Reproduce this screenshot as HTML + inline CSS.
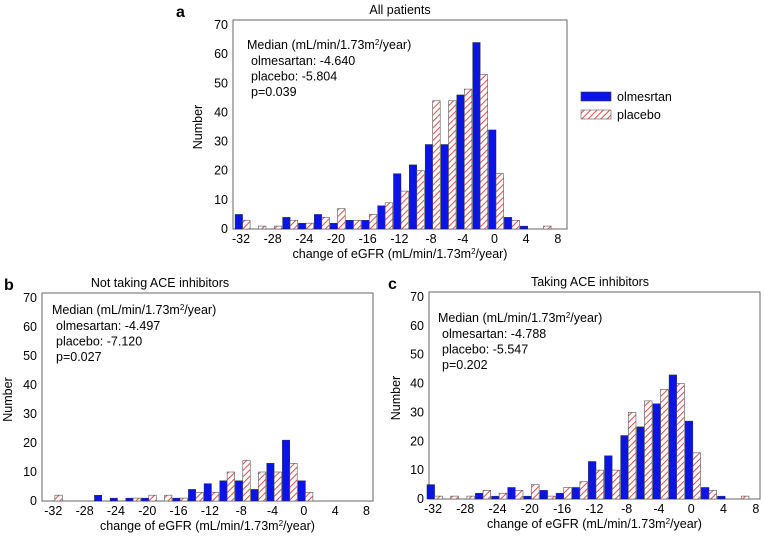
<!DOCTYPE html>
<html><head><meta charset="utf-8"><style>
body{margin:0;background:#fff;width:764px;height:536px;overflow:hidden}
svg{display:block;font-family:"Liberation Sans",sans-serif}
</style></head><body>
<svg id="chart" width="764" height="536" viewBox="0 0 764 536">
<defs><pattern id="hatch" patternUnits="userSpaceOnUse" width="4.5" height="4.5" patternTransform="rotate(45)"><rect width="4.5" height="4.5" fill="#fff"/><line x1="0" y1="0" x2="0" y2="4.5" stroke="#e03a3a" stroke-width="1.8"/></pattern></defs>
<g>
<rect x="581" y="92" width="30" height="9" fill="#0a14e6" stroke="#333" stroke-width="0.6"/>
<text x="617" y="101" font-size="12.5">olmesrtan</text>
<rect x="581" y="110" width="30" height="9" fill="url(#hatch)" stroke="#555" stroke-width="0.6"/>
<text x="617" y="119" font-size="12.5">placebo</text>
</g>
</svg>
<script>
const binStarts = [-32,-30,-28,-26,-24,-22,-20,-18,-16,-14,-12,-10,-8,-6,-4,-2,0,2,4,6];
const xTicks = [-32,-28,-24,-20,-16,-12,-8,-4,0,4,8];
const yTicks = [0,10,20,30,40,50,60,70];
const aOlme = [5,0,0,4,2,5,2,3,3,8,19,22,29,29,46,64,34,4,1,0];
const aPlac = [3,1,1,3,2,4,7,3,5,9,13,20,44,44,48,53,19,3,0,1];
const bOlme = [0,0,0,2,1,1,1,0,1,4,6,7,7,4,13,21,7,0,0,0];
const bPlac = [2,0,0,0,0,1,2,2,1,3,3,10,14,10,10,13,3,0,0,0];
const cOlme = [5,0,0,2,1,4,1,3,2,4,13,15,22,25,33,43,27,4,1,0];
const cPlac = [1,1,1,3,2,3,5,1,4,6,10,10,30,34,38,40,16,3,0,1];
const aNotes = ["olmesartan: -4.640","placebo: -5.804","p=0.039"];
const bNotes = ["olmesartan: -4.497","placebo: -7.120","p=0.027"];
const cNotes = ["olmesartan: -4.788","placebo: -5.547","p=0.202"];

const svg = document.getElementById('chart');
const NS = 'http://www.w3.org/2000/svg';
function mk(tag, attrs, parent, text){
  const e = document.createElementNS(NS, tag);
  for (const k in attrs) e.setAttribute(k, attrs[k]);
  if (text !== undefined) e.textContent = text;
  parent.appendChild(e); return e;
}
function panel(P){
  const g = mk('g', {}, svg);
  
  
  const xs = v => P.x0 + (v + 32) * P.ux;
  const ys = v => P.y0 - v * (P.y0 - P.y70) / 70;
  const box = mk('rect', {x:P.left, y:P.y70-5, width:P.right-P.left, height:P.y0-P.y70+5, fill:'none', stroke:'#666', 'stroke-width':1}, g);
  
  
  binStarts.forEach((c, i) => {
    const s = c - 0.75;
    const b = mk('rect', {x:xs(s), y:ys(P.o[i]), width:xs(s+0.95)-xs(s), height:ys(0)-ys(P.o[i]), fill:'#0a14e6', stroke:'#222', 'stroke-width':0.4}, g);
    
    
    const p = mk('rect', {x:xs(s+0.95), y:ys(P.p[i]), width:xs(s+1.9)-xs(s+0.95), height:ys(0)-ys(P.p[i]), fill:'url(#hatch)', stroke:'#555', 'stroke-width':0.6}, g);
    
    
  });
  xTicks.forEach(t => {
    const tl = mk('text', {x:xs(t), y:P.y0+14, 'font-size':12.5, 'text-anchor':'middle'}, g, String(t));
    
    
  });
  yTicks.forEach(t => {
    const tl = mk('text', {x:P.left-5, y:ys(t)+4, 'font-size':12.5, 'text-anchor':'end'}, g, String(t));
    
    
  });
  const xt = mk('text', {x:(P.left+P.right)/2, y:P.y0+29, 'font-size':12.5, 'text-anchor':'middle'}, g);
  xt.innerHTML = 'change of eGFR (mL/min/1.73m<tspan dy="-4" font-size="8">2</tspan><tspan dy="4">/year)</tspan>';
  
  
  const yt = mk('text', {x:0, y:0, 'font-size':12.5, 'text-anchor':'middle', transform:'translate('+P.yTitleX+','+((P.y0+P.y70)/2)+') rotate(-90)'}, g, 'Number');
  
  
  const tt = mk('text', {x:P.titleX, y:P.y70-11, 'font-size':12.5, 'text-anchor':'middle'}, g, P.title);
  
  
  const lt = mk('text', {x:P.letterX, y:P.y70-8, 'font-size':16, 'font-weight':'bold'}, g, P.id);
  
  
  const mh = mk('text', {x:P.nx, y:P.ny, 'font-size':12.5}, g);
  mh.innerHTML = 'Median (mL/min/1.73m<tspan dy="-4" font-size="8">2</tspan><tspan dy="4">/year)</tspan>';
  
  
  P.notes.forEach((n, i) => {
    const t = mk('text', {x:P.nx+4, y:P.ny+16+i*15.5, 'font-size':12.5}, g, n);
    
    
  });
}
panel({id:'a', o:aOlme, p:aPlac, notes:aNotes, title:'All patients', left:233, right:567, x0:241, ux:7.92, y0:229, y70:25, yTitleX:202, titleX:400, letterX:176, nx:247, ny:49});
panel({id:'b', o:bOlme, p:bPlac, notes:bNotes, title:'Not  taking ACE inhibitors', left:42, right:373, x0:53.3, ux:7.83, y0:501, y70:298, yTitleX:12, titleX:160, letterX:4, nx:52, ny:314});
panel({id:'c', o:cOlme, p:cPlac, notes:cNotes, title:'Taking ACE inhibitors', left:429, right:760, x0:433, ux:8.07, y0:499, y70:297, yTitleX:400, titleX:590, letterX:388, nx:438, ny:322});
</script>
</body></html>
